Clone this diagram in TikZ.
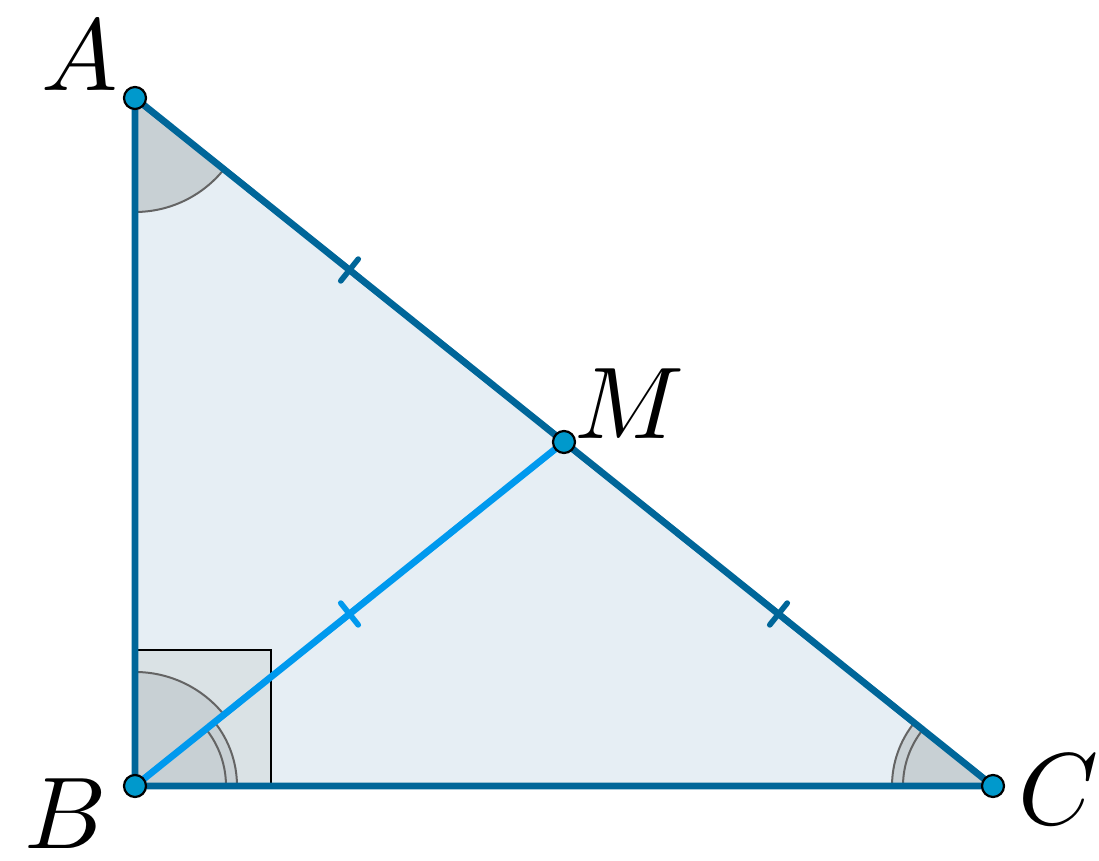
\documentclass[tikz,border=0pt]{standalone}
\usepackage{graphicx}
\usetikzlibrary{calc}
\definecolor{edge}{RGB}{0,102,153}
\definecolor{trifill}{RGB}{230,238,244}
\definecolor{angfill}{RGB}{200,208,212}
\definecolor{sqfill}{RGB}{218,226,229}
\definecolor{median}{RGB}{0,153,238}
\definecolor{ptfill}{RGB}{0,153,204}
\definecolor{arcline}{RGB}{100,100,100}
\tikzset{
  side/.style={draw=edge,line width=3.4pt},
  med/.style={draw=median,line width=3.4pt},
  tickmark/.style={line width=2.8pt,line cap=round},
  angsec/.style={fill=angfill},
  angarc/.style={draw=arcline,line width=1pt},
  ptdot/.style={circle,draw=black,line width=1.1pt,fill=ptfill,minimum size=11pt,inner sep=0pt},
  lbl/.style={inner sep=0pt}
}
\newcommand{\biglbl}[1]{\scalebox{5.1}{$#1$}}
\begin{document}
\begin{tikzpicture}[x=0.5pt,y=0.5pt]
\useasboundingbox (0,0) rectangle (1099,861);
\coordinate (A) at (135,763);
\coordinate (B) at (135,75);
\coordinate (C) at (993,75);
\coordinate (M) at ($(A)!0.5!(C)$);
% triangle fill
\fill[trifill] (A) -- (B) -- (C) -- cycle;
% right angle square
\draw[fill=sqfill,draw=black,line width=0.75pt] (B) rectangle ++(68pt,68pt);
% angle at A
\fill[angsec] (A) -- ++(-90:57pt) arc[start angle=-90,end angle=-38.72,radius=57pt] -- cycle;
\draw[angarc] (A) ++(-90:57pt) arc[start angle=-90,end angle=-38.72,radius=57pt];
% angle ABM
\fill[angsec] (B) -- ++(38.72:57pt) arc[start angle=38.72,end angle=90,radius=57pt] -- cycle;
\draw[angarc] (B) ++(38.72:57pt) arc[start angle=38.72,end angle=90,radius=57pt];
% angle MBC
\fill[angsec] (B) -- ++(0:51pt) arc[start angle=0,end angle=38.72,radius=51pt] -- cycle;
\draw[angarc] (B) ++(0:51pt) arc[start angle=0,end angle=38.72,radius=51pt];
\draw[angarc] (B) ++(0:45.5pt) arc[start angle=0,end angle=38.72,radius=45.5pt];
% angle at C
\fill[angsec] (C) -- ++(180:50.5pt) arc[start angle=180,end angle=141.28,radius=50.5pt] -- cycle;
\draw[angarc] (C) ++(180:50.5pt) arc[start angle=180,end angle=141.28,radius=50.5pt];
\draw[angarc] (C) ++(180:45pt) arc[start angle=180,end angle=141.28,radius=45pt];
% sides
\draw[side,line join=round] (A) -- (B) -- (C) -- cycle;
\draw[med] (B) -- (M);
% ticks
\draw[tickmark,edge] ($(A)!0.5!(M)$) ++(51.28:7pt) -- ++(231.28:14pt);
\draw[tickmark,edge] ($(M)!0.5!(C)$) ++(51.28:7pt) -- ++(231.28:14pt);
\draw[tickmark,median] ($(B)!0.5!(M)$) ++(128.72:7pt) -- ++(-51.28:14pt);
% points
\node[ptdot] (pA) at (A) {};
\node[ptdot] (pB) at (B) {};
\node[ptdot] (pC) at (C) {};
\node[ptdot] (pM) at (M) {};
% labels
\node[lbl] (lA) at (80,805) {\biglbl{A}};
\node[lbl] (lB) at (66,47) {\biglbl{B}};
\node[lbl] (lC) at (1059,71) {\biglbl{C}};
\node[lbl] (lM) at (630,457) {\biglbl{M}};
\end{tikzpicture}
\end{document}
